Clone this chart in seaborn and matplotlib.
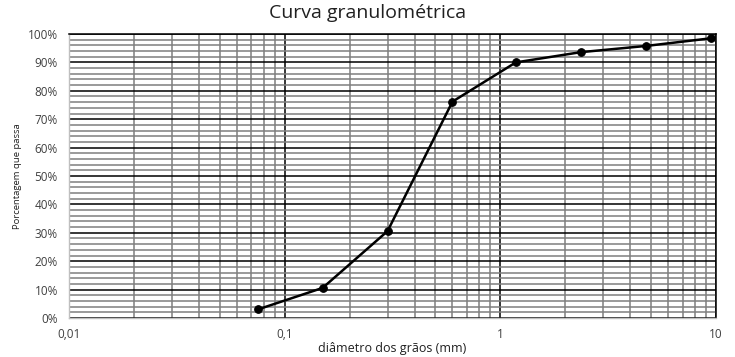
import matplotlib
matplotlib.use("Agg")
import matplotlib.pyplot as plt
import seaborn as sns
import numpy as np
import pandas as pd
from matplotlib.ticker import FixedLocator, FuncFormatter, LogLocator, MultipleLocator

diametro = [0.075, 0.15, 0.3, 0.6, 1.18, 2.36, 4.75, 9.5]
passa = [3.0, 10.6, 30.6, 76.2, 90.0, 93.6, 95.8, 98.5]
xticks = [0.01, 0.1, 1, 10]
xtick_labels = ["0,01", "0,1", "1", "10"]

sns.set_theme(style="white")
plt.rcParams['font.family'] = ['Open Sans', 'DejaVu Sans']

df = pd.DataFrame({"d": diametro, "p": passa})

fig = plt.figure(figsize=(7.35, 3.57), dpi=100)
ax = fig.add_axes([69/735, 1-318/357, (716-69)/735, (318-34)/357])

sns.lineplot(data=df, x="d", y="p", ax=ax, color="black", linewidth=1.8,
             marker="o", markersize=5.5, markeredgecolor="black", zorder=5)

ax.set_xscale("log")
ax.set_xlim(0.01, 10)
ax.set_ylim(0, 100)

ax.xaxis.set_major_locator(FixedLocator(xticks))
ax.xaxis.set_major_formatter(FuncFormatter(lambda v, pos: xtick_labels[xticks.index(v)] if v in xticks else ""))
ax.xaxis.set_minor_locator(LogLocator(base=10, subs=np.arange(2, 10)))
ax.xaxis.set_minor_formatter(FuncFormatter(lambda v, pos: ""))
ax.yaxis.set_major_locator(MultipleLocator(10))
ax.yaxis.set_minor_locator(MultipleLocator(2))
ax.yaxis.set_major_formatter(FuncFormatter(lambda v, pos: f"{int(round(v))}%"))

ax.grid(which="major", axis="both", color="black", linewidth=1.1)
ax.grid(which="minor", axis="both", color="#7f7f7f", linewidth=1.1)
ax.set_axisbelow(True)

for s in ["left", "bottom"]:
    ax.spines[s].set_color("#bfbfbf")
    ax.spines[s].set_linewidth(1.0)
for s in ["top", "right"]:
    ax.spines[s].set_color("black")
    ax.spines[s].set_linewidth(1.1)

ax.tick_params(axis="both", which="both", length=0, labelsize=8.5, colors="#404040")
ax.tick_params(axis="x", pad=7)
ax.tick_params(axis="y", pad=8)

ax.set_xlabel("diâmetro dos grãos (mm)", fontsize=9, color="#202020", labelpad=1)
ax.set_ylabel("Porcentagem que passa", fontsize=6.8, color="#202020", labelpad=4)
fig.suptitle("Curva granulométrica", fontsize=14, color="#202020", y=0.99)

fig.savefig("out.png", dpi=100)
